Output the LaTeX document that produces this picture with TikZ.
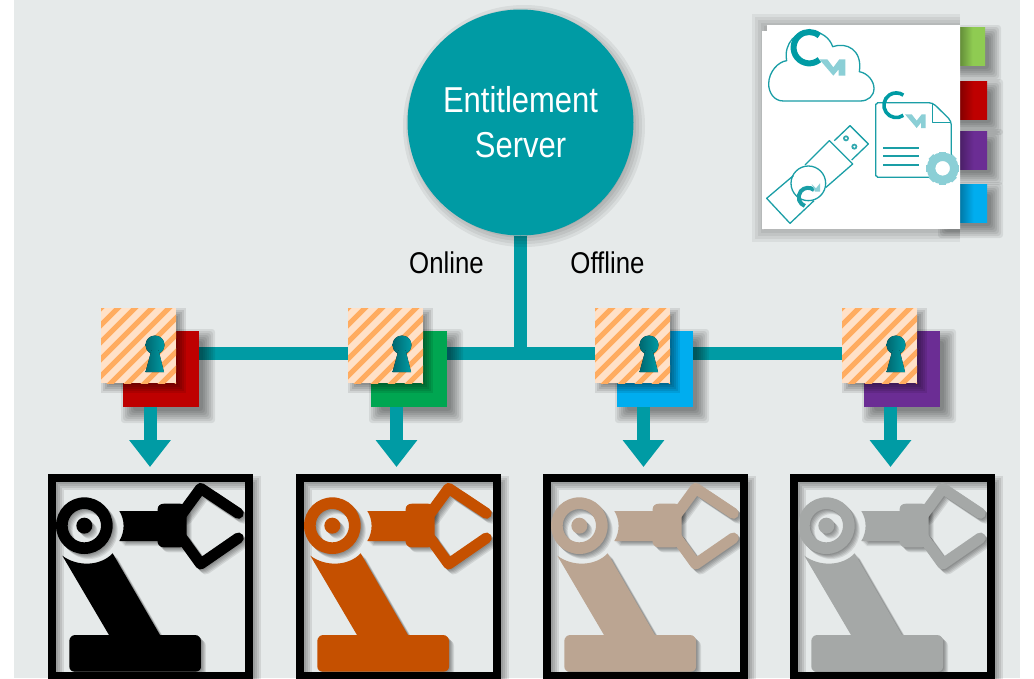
\documentclass[tikz,border=0pt]{standalone}
\usepackage{fontspec}
\newfontfamily\narrowsans[FakeStretch=0.86]{Liberation Sans}
\usetikzlibrary{arrows.meta,backgrounds}
\definecolor{pagebg}{HTML}{E6EAEA}
\definecolor{teal}{HTML}{009BA4}
\definecolor{tealdark}{HTML}{00737C}
\definecolor{iconteal}{HTML}{1A9EA6}
\definecolor{iconlight}{HTML}{8BCFD6}
\definecolor{lockbg}{HTML}{FFE1C8}
\definecolor{lockstripe}{HTML}{FFAC60}
\definecolor{cred}{HTML}{BE0000}
\definecolor{cgreen}{HTML}{00A651}
\definecolor{cblue}{HTML}{00ADEF}
\definecolor{cpurple}{HTML}{6B2D94}
\definecolor{tgreen}{HTML}{8FCB52}
\definecolor{rorange}{HTML}{C55000}
\definecolor{rtan}{HTML}{BBA592}
\definecolor{rgrey}{HTML}{A5A8A7}
\tikzset{
  square/.style={rectangle,minimum size=76pt,inner sep=0pt,outer sep=0pt,anchor=north west},
  lockbox/.style={rectangle,minimum size=75pt,inner sep=0pt,outer sep=0pt,anchor=north west},
  bus/.style={draw=teal,line width=13pt},
  flow/.style={draw=teal,line width=13pt,-{Triangle[width=40pt,length=27pt]}},
  lbl/.style={font=\narrowsans\fontsize{30}{36}\selectfont,text=black,inner sep=0pt},
  frame/.style={rectangle,draw=black,line width=8pt,minimum width=197pt,minimum height=198pt,inner sep=0pt,outer sep=0pt,anchor=north west},
  icon/.style={draw=iconteal,line width=1.3pt,line join=round}
}
% soft shadow of a rectangle, (x1,y1)-(x2,y2), spread by offset
\newcommand{\softbox}[4]{%
  \foreach \e in {-3,-1,1,3,5,7,9}{%
    \fill[black,opacity=0.075,rounded corners=3pt]
      ({#1+7-\e},{#2+7-\e}) rectangle ({#3+7+\e},{#4+7+\e});}}
\newcommand{\robotshape}{%
  \path[even odd rule,fill] (163,182) circle[radius=85] (163,182) circle[radius=50];
  \path[fill] (163,182) circle[radius=24];
  \path[fill] (97,272) .. controls (140,305) and (210,305) .. (248,265) -- (390,510)
     -- (495,510) .. controls (505,510) and (513,518) .. (513,528) -- (513,605)
     .. controls (513,615) and (505,620) .. (495,620) -- (136,620)
     .. controls (126,620) and (118,615) .. (118,605) -- (118,528)
     .. controls (118,518) and (126,510) .. (136,510) -- (237,510) -- cycle;
  \path[fill] (268,138) .. controls (285,165) and (285,200) .. (268,228) -- (383,228)
     -- (383,232) .. controls (385,242) and (392,247) .. (402,247) -- (450,247)
     .. controls (462,247) and (470,235) .. (470,225) -- (470,138)
     .. controls (470,126) and (462,116) .. (450,116) -- (402,116)
     .. controls (392,116) and (383,122) .. (383,132) -- (383,138) -- cycle;
  \path[draw,line width=11pt,line cap=round,line join=round]
     (625,145) -- (512,70) -- (455,148);
  \path[draw,line width=11pt,line cap=round,line join=round]
     (625,219) -- (512,297) -- (455,218);
}
\newcommand{\robot}[3]{% frame name, left offset from first, colour
  \node[frame] (#1) at ({#2+52},478) {};
  \begin{scope}[shift={({#2+30},465)},x=0.33333pt,y=-0.33333pt]
    \foreach \k in {1,...,5}{%
      \begin{scope}[shift={(\k*3,\k*3)},black,opacity=0.09]\robotshape\end{scope}}
    \begin{scope}[#3]\robotshape\end{scope}
  \end{scope}
}
\begin{document}
\begin{tikzpicture}[x=1pt,y=-1pt]
\useasboundingbox (0,0) rectangle (1034,678);
\clip (0,0) rectangle (1034,678);

\coordinate (busline) at (520.5,353.5);
\coordinate (tip1) at (150,467);
\coordinate (tip2) at (396.5,467);
\coordinate (tip3) at (643.5,467);
\coordinate (tip4) at (890.5,467);

% server
\foreach \e in {-4,-1,2,5,8}{\fill[black,opacity=0.06] (524,126) circle[radius={113+\e}];}
\node[circle,fill=teal,minimum size=226pt,inner sep=0pt,outer sep=0pt,align=center,
  font=\narrowsans\fontsize{36}{45}\selectfont,text=white] (server) at (520.5,122.5)
  {Entitlement\\Server};

\softbox{123}{331}{199}{407}
\softbox{371}{331}{447}{407}
\softbox{617}{331}{693}{407}
\softbox{864}{331}{940}{407}
\node[square,fill=cred] (sq1) at (123,331) {};
\node[square,fill=cgreen] (sq2) at (371,331) {};
\node[square,fill=cblue] (sq3) at (617,331) {};
\node[square,fill=cpurple] (sq4) at (864,331) {};

\begin{scope}[on background layer]
  \fill[white] (0,0) rectangle (1034,678);
  \fill[pagebg] (14,0) rectangle (1020,678);
  \draw[bus] (server.south) -- (server.south |- 0,360);
  \draw[bus] (sq1.east |- busline) -- (sq4.west |- busline);
\end{scope}

\foreach \x in {101,348,595,842}{%
  \foreach \e in {-3,-1,1,3,5}{%
    \fill[black,opacity=0.09] ({\x+5-\e},{308+5-\e}) rectangle ({\x+75+5+\e},{308+75+5+\e});}}
\node[lockbox,fill=lockbg] (lock1) at (101,308) {};
\node[lockbox,fill=lockbg] (lock2) at (348,308) {};
\node[lockbox,fill=lockbg] (lock3) at (595,308) {};
\node[lockbox,fill=lockbg] (lock4) at (842,308) {};
\foreach \n/\x in {1/101,2/348,3/595,4/842}{%
  \begin{scope}
    \clip (lock\n.north west) rectangle (lock\n.south east);
    \foreach \s in {-4,...,12}{%
      \draw[lockstripe,line width=5pt] ({\x+\s*17-80},{308+80}) -- ({\x+\s*17+10},{308-10});}
  \end{scope}
  \fill[left color=tealdark!90!black,right color=teal]
    ({\x+54},{308+37}) circle[radius=9.5];
  \fill[left color=tealdark!90!black,right color=teal]
    ({\x+50.5},{308+42}) -- ({\x+57.5},{308+42}) -- ({\x+63},{308+64}) -- ({\x+44.5},{308+64}) -- cycle;
}

% arrows
\draw[flow] (tip1 |- sq1.south) -- (tip1);
\draw[flow] (tip2 |- sq2.south) -- (tip2);
\draw[flow] (tip3 |- sq3.south) -- (tip3);
\draw[flow] (tip4 |- sq4.south) -- (tip4);

% labels
\node[lbl] (online) at (446.5,263) {Online};
\node[lbl] (offline) at (607.5,263) {Offline};

% frame shadows
\foreach \dx in {0,248,495,742}{%
  \foreach \e in {-3,-1,1,3}{%
    \draw[black,opacity=0.09,line width=8pt+2pt*\e] ({\dx+52+5},{478+5}) rectangle ({\dx+249+5},{676+5});}}
\robot{frame1}{0}{black}
\robot{frame2}{248}{rorange}
\robot{frame3}{495}{rtan}
\robot{frame4}{742}{rgrey}

% tabs
\softbox{940}{27}{985}{65}
\softbox{940}{81}{987}{119}
\softbox{940}{131}{987}{169}
\softbox{940}{184}{987}{222}
\fill[left color=tgreen!70!black,right color=tgreen,middle color=tgreen] (960,27) rectangle (985,65);
\fill[left color=cred!70!black,right color=cred,middle color=cred] (960,81) rectangle (987,119);
\fill[left color=cpurple!70!black,right color=cpurple,middle color=cpurple] (960,131) rectangle (987,169);
\fill[left color=cblue!70!black,right color=cblue,middle color=cblue] (960,184) rectangle (987,222);

% white panel
\foreach \e in {-4,-1,2,5,8,11}{%
  \fill[black,opacity=0.055] ({762-\e+1},{25-\e}) rectangle ({960},{229+\e+2});}
\fill[white] (762,31) -- (767,31) -- (767,25) -- (960,25) -- (960,229) -- (762,229) -- cycle;

\begin{scope}[shift={(740,10)},x=0.33333pt,y=-0.33333pt]
  % cloud
  \draw[icon] (130,273) .. controls (100,273) and (86,245) .. (86,222)
    .. controls (86,185) and (115,155) .. (140,152)
    .. controls (130,100) and (170,62) .. (210,64)
    .. controls (245,64) and (270,85) .. (278,110)
    .. controls (320,95) and (368,120) .. (358,185)
    .. controls (385,190) and (402,215) .. (402,235)
    .. controls (402,258) and (385,273) .. (360,273) -- cycle;
  \draw[teal,line width=6pt] (238,149) arc[start angle=50,end angle=310,radius=47];
  \fill[iconlight] (238,148) -- (262,148) -- (280,172) -- (298,148) -- (316,148) -- (316,197)
    -- (296,197) -- (296,178) -- (280,197) -- cycle;
  % document
  \draw[icon,rounded corners=4pt] (634,440) -- (634,333) -- (578,278) -- (425,278)
     .. controls (415,278) and (407,285) .. (407,295) -- (407,485)
     .. controls (407,495) and (415,502) .. (425,502) -- (570,502);
  \draw[icon] (578,278) -- (578,337) -- (634,337);
  \draw[teal,line width=3.6pt] (490,316) arc[start angle=55,end angle=305,radius=37];
  \fill[iconlight] (495,313) -- (515,313) -- (530,332) -- (545,313) -- (557,313) -- (557,354)
    -- (543,354) -- (543,338) -- (530,354) -- cycle;
  \foreach \yy in {414,439,464}{\draw[iconteal,line width=1.7pt] (430,\yy) -- (536,\yy);}
  % gear
  \draw[iconlight,line width=8.5pt] (608,475) circle[radius=35];
  \foreach \a in {0,45,...,315}{%
    \fill[iconlight,rotate around={\a:(608,475)}] (598,425) rectangle (618,445);}
  % usb stick
  \draw[icon] (160,497) -- (80,565) -- (150,640) -- (222,572);
  \draw[icon] (195,465) -- (268,392) -- (338,462) -- (258,532);
  \draw[icon] (283,392) -- (330,347) -- (385,402) -- (335,450);
  \draw[icon] (205,520) circle[radius=52];
  \draw[iconteal,line width=4pt] (222,540) arc[start angle=-50,end angle=-250,radius=28];
  \fill[iconlight] (215,522) -- (228,535) -- (240,520) -- (240,545) -- (225,545) -- cycle;
  \fill[iconteal!90] (318,385) circle[radius=9];
  \fill[iconteal!90] (343,410) circle[radius=9];
  \fill[white] (318,385) circle[radius=3.5];
  \fill[white] (343,410) circle[radius=3.5];
\end{scope}
\end{tikzpicture}
\end{document}
